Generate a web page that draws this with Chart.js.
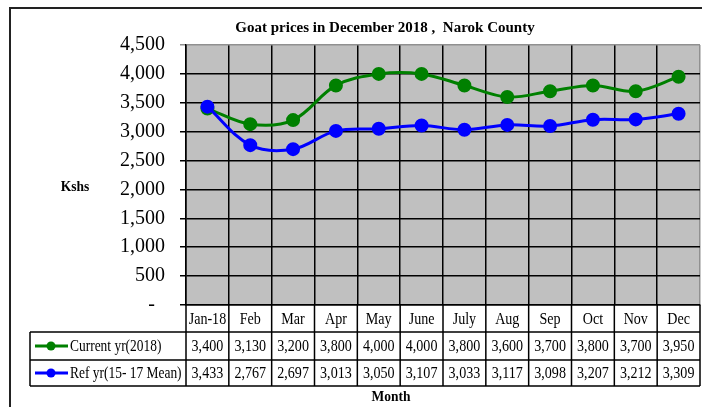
<!DOCTYPE html>
<html>
<head>
<meta charset="utf-8">
<script src="https://cdn.jsdelivr.net/npm/chart.js@4/dist/chart.umd.min.js"></script>
<style>
html,body{margin:0;padding:0;background:#fff;}
#wrap{width:702px;height:407px;position:relative;}
</style>
</head>
<body>
<div id="wrap"><canvas id="c" width="702" height="407"></canvas></div>
<script>
const months = ['Jan-18','Feb','Mar','Apr','May','June','July','Aug','Sep','Oct','Nov','Dec'];
const currentYr = [3400,3130,3200,3800,4000,4000,3800,3600,3700,3800,3700,3950];
const refYr = [3433,2767,2697,3013,3050,3107,3033,3117,3098,3207,3212,3309];
const seriesNames = ['Current yr(2018)','Ref yr(15- 17 Mean)'];
const yTicks = [0,500,1000,1500,2000,2500,3000,3500,4000,4500];
const chartTitle = 'Goat prices in December 2018 ,  Narok County';
const yTitle = 'Kshs';
const xTitle = 'Month';

const GREEN = '#008000';
const BLUE = '#0000FF';
const SERIF = "'Liberation Serif', 'Times New Roman', serif";

function fmt(v){ return v.toLocaleString('en-US'); }

function txt(ctx, s, x, y, font, align, sx){
  ctx.save();
  ctx.font = font;
  ctx.fillStyle = '#000';
  ctx.textBaseline = 'middle';
  ctx.textAlign = align || 'center';
  ctx.translate(x, y);
  ctx.scale(sx || 1, 1);
  ctx.fillText(s, 0, 0);
  ctx.restore();
}

const tablePlugin = {
  id: 'tablePlugin',
  beforeDraw(chart){
    const {ctx, chartArea:a} = chart;
    ctx.save();
    ctx.fillStyle = '#fff';
    ctx.fillRect(0,0,chart.width,chart.height);
    ctx.fillStyle = '#C0C0C0';
    ctx.fillRect(a.left, a.top, a.right-a.left, a.bottom-a.top);
    ctx.restore();
  },
  afterDraw(chart){
    const {ctx, chartArea:a} = chart;
    const xs = chart.scales.x;
    const n = months.length;
    const colW = (a.right - a.left)/n;
    const y0 = a.bottom, y1 = 332, y2 = 360, y3 = 386;
    const tl = 30;
    ctx.save();
    // outer frame
    ctx.strokeStyle = '#222';
    ctx.lineWidth = 2;
    ctx.beginPath();
    ctx.moveTo(10, chart.height); ctx.lineTo(10, 8); ctx.lineTo(chart.width, 8);
    ctx.stroke();
    // table lines
    ctx.strokeStyle = '#000';
    ctx.lineWidth = 1.5;
    ctx.beginPath();
    for (let i=0;i<=n;i++){
      const x = a.left + i*colW;
      ctx.moveTo(x, y0); ctx.lineTo(x, y3);
    }
    [y1,y2,y3].forEach(y=>{ ctx.moveTo(tl, y); ctx.lineTo(a.right, y); });
    ctx.moveTo(tl, y1); ctx.lineTo(tl, y3);
    ctx.stroke();
    ctx.restore();

    const f = '16px ' + SERIF;
    months.forEach((m,i)=>{
      const cx = xs.getPixelForValue(i);
      txt(ctx, m, cx, (y0+y1)/2+1, f, 'center', 0.88);
      txt(ctx, fmt(currentYr[i]), cx, (y1+y2)/2+1, f, 'center', 0.88);
      txt(ctx, fmt(refYr[i]), cx, (y2+y3)/2+1, f, 'center', 0.88);
    });
    // legend keys
    [[GREEN,(y1+y2)/2,seriesNames[0]],[BLUE,(y2+y3)/2,seriesNames[1]]].forEach(([c,y,name])=>{
      ctx.save();
      ctx.strokeStyle = c; ctx.fillStyle = c; ctx.lineWidth = 3;
      ctx.beginPath(); ctx.moveTo(35,y); ctx.lineTo(68,y); ctx.stroke();
      ctx.beginPath(); ctx.arc(51,y,4.5,0,Math.PI*2); ctx.fill();
      ctx.restore();
      txt(ctx, name, 70, y+1, f, 'left', 0.84);
    });
    // axis titles
    txt(ctx, yTitle, 75, 187, 'bold 15px ' + SERIF, 'center', 0.9);
    txt(ctx, xTitle, 391, 397, 'bold 15px ' + SERIF, 'center', 0.9);
  }
};

const lineW = 3;
new Chart(document.getElementById('c'), {
  type: 'line',
  data: {
    labels: months,
    datasets: [
      { label: seriesNames[0], data: currentYr, borderColor: GREEN, backgroundColor: GREEN,
        borderWidth: lineW, pointRadius: 5.5, pointHoverRadius: 5.5, tension: 0.35, order: 1 },
      { label: seriesNames[1], data: refYr, borderColor: BLUE, backgroundColor: BLUE,
        borderWidth: lineW, pointRadius: 5.5, pointHoverRadius: 5.5, tension: 0.35, order: 0 }
    ]
  },
  options: {
    responsive: false,
    animation: false,
    devicePixelRatio: 1,
    font: { family: SERIF },
    layout: { autoPadding: false, padding: { left: 70, right: 2, top: 0, bottom: 0 } },
    plugins: {
      legend: { display: false },
      tooltip: { enabled: false },
      title: { display: true, text: chartTitle, color: '#000',
        font: { family: SERIF, size: 15, weight: 'bold' },
        padding: { top: 19, bottom: 8 } }
    },
    scales: {
      x: {
        offset: true,
        grid: { offset: true, drawTicks: false, lineWidth: 1.5,
          color: (c)=> (c.type === 'scale' || c.index === months.length) ? '#909090' : '#000' },
        border: { display: true, color: '#000', width: 1.5 },
        ticks: { display: false },
        afterFit: (s)=>{ s.height = 102; }
      },
      y: {
        min: 0, max: 4500,
        afterBuildTicks: (s)=>{ s.ticks = yTicks.map(v=>({value:v})); },
        grid: { lineWidth: 1.5, tickLength: 6,
          color: (c)=> (c.tick && c.tick.value === 4500) ? '#909090' : '#000' },
        border: { display: true, color: '#000', width: 1.5 },
        ticks: { color: '#000', padding: 15, font: { family: SERIF, size: 20 },
          callback: (v)=> v === 0 ? '-  ' : fmt(v) },
        afterFit: (s)=>{ s.width = 116; }
      }
    }
  },
  plugins: [tablePlugin]
});
</script>
</body>
</html>
